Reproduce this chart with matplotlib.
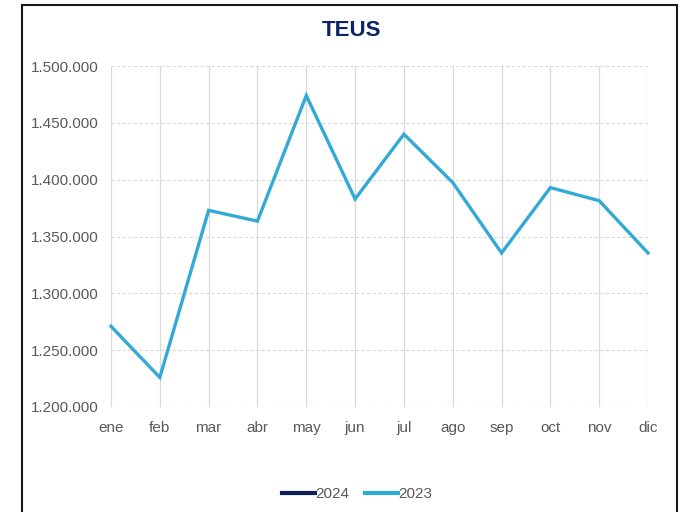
import matplotlib
matplotlib.use("Agg")
import matplotlib.pyplot as plt
from matplotlib.patches import Rectangle
from matplotlib.ticker import FuncFormatter
import numpy as np

months = ["ene", "feb", "mar", "abr", "may", "jun", "jul", "ago", "sep", "oct", "nov", "dic"]
teus_2024 = [np.nan] * 12
teus_2023 = [1271000, 1226000, 1373000, 1363500, 1474000, 1383000,
             1440000, 1397500, 1335500, 1393000, 1381500, 1335500]

plt.rcParams["font.family"] = ["Liberation Sans", "DejaVu Sans"]

fig = plt.figure(figsize=(6.83, 5.12), dpi=100)
fig.patch.set_facecolor("white")

# chart frame
fig.add_artist(Rectangle((22 / 683, -0.05), (677 - 22) / 683, 1.05 - 5 / 512,
                         transform=fig.transFigure, fill=False,
                         edgecolor="#1a1a1a", linewidth=1.5))

ax = fig.add_axes([111 / 683, 1 - 407 / 512, (648 - 111) / 683, (407 - 66) / 512])
x = np.arange(len(months))
ax.plot(x, teus_2024, color="#0b1f5c", linewidth=3, label="2024")
ax.plot(x, teus_2023, color="#33a9d6", linewidth=2.4, label="2023",
        solid_joinstyle="miter", clip_on=False)

ax.set_xlim(0, 11)
ax.set_ylim(1200000, 1500000)
ax.set_yticks(np.arange(1200000, 1500001, 50000))
ax.yaxis.set_major_formatter(FuncFormatter(lambda v, p: f"{int(v):,}".replace(",", ".")))
ax.set_xticks(x)
ax.set_xticklabels(months)

for s in ax.spines.values():
    s.set_visible(False)
ax.tick_params(axis="both", length=0, colors="#595959", labelsize=11)
ax.tick_params(axis="x", pad=10)
ax.tick_params(axis="y", pad=9)

ax.grid(axis="y", color="#d9d9d9", linestyle=(0, (3, 2)), linewidth=0.8)
ax.grid(axis="x", color="#d9d9d9", linestyle="-", linewidth=0.9)
ax.set_axisbelow(True)

fig.text(351 / 683, 1 - 31 / 512, "TEUS", ha="center", va="center",
         fontsize=16, fontweight="bold", color="#0b2466")

leg = fig.legend(loc="center", bbox_to_anchor=(357 / 683, 1 - 494 / 512), ncol=2,
                 frameon=False, fontsize=11, handlelength=2.2, handletextpad=0.0,
                 columnspacing=1.0)
for t in leg.get_texts():
    t.set_color("#595959")
for h in leg.get_lines():
    h.set_linewidth(3)

fig.savefig("out.png", dpi=100)
